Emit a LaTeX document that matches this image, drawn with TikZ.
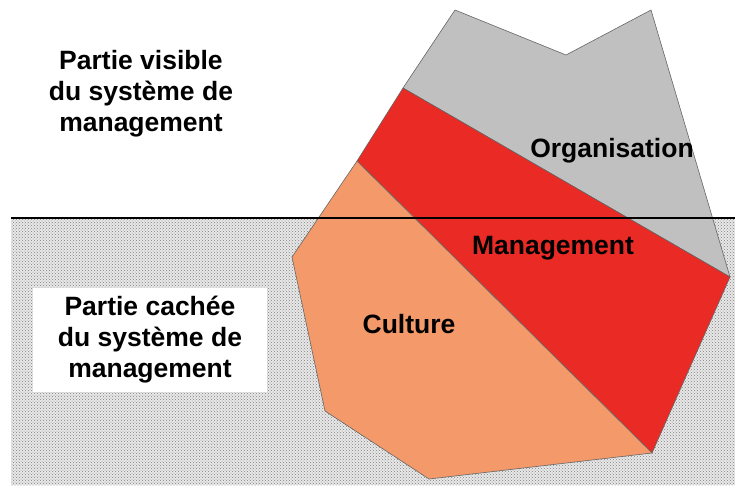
\documentclass[tikz,border=0pt]{standalone}
\usepackage{fontspec}
\setmainfont{Liberation Sans}
\usetikzlibrary{patterns}
\definecolor{orgcol}{HTML}{C0C0C0}
\definecolor{mgmtcol}{HTML}{E92A25}
\definecolor{cultcol}{HTML}{F4996A}

\begin{document}
\begin{tikzpicture}[x=1pt, y=-1pt,
    region/.style={draw=black!60, line width=0.6pt, line join=round},
    tag/.style={font=\bfseries\fontsize{26.5}{31}\selectfont, anchor=base, inner sep=0pt},
    legend/.style={font=\bfseries\fontsize{26.5}{31}\selectfont, align=center}]
    \useasboundingbox (0,0) rectangle (735,485);
    % hidden part, below the surface
    \fill[gray!18] (11,218) rectangle (735,485);
    \fill[pattern=crosshatch dots, pattern color=gray] (11,218) rectangle (735,485);
    % iceberg corners
    \coordinate (a) at (455,10);
    \coordinate (b) at (566,55);
    \coordinate (c) at (651,10);
    \coordinate (d) at (730,277);
    \coordinate (e) at (652,453);
    \coordinate (f) at (429,479);
    \coordinate (g) at (325,411);
    \coordinate (h) at (292,257);
    \coordinate (i) at (357,161);
    \coordinate (j) at (403,88);
    \filldraw[region, fill=orgcol] (a) -- (b) -- (c) -- (d) -- (j) -- cycle;
    \filldraw[region, fill=mgmtcol] (j) -- (d) -- (e) -- (i) -- cycle;
    \filldraw[region, fill=cultcol] (i) -- (e) -- (f) -- (g) -- (h) -- cycle;
    % surface
    \coordinate (sl) at (11,218);
    \coordinate (sr) at (735,218);
    \draw[line width=2.8pt] (sl) -- (sr);
    \node[tag] (org) at (612,157) {Organisation};
    \node[tag] (mgmt) at (553,254) {Management};
    \node[tag] (cult) at (409,333) {Culture};
    \node[legend] (visible) at (141,94) {Partie visible\\du système de\\management};
    \node[legend, fill=white, minimum width=234pt, minimum height=104pt] (hidden) at (150,340) {Partie cachée\\du système de\\management};
\end{tikzpicture}
\end{document}
